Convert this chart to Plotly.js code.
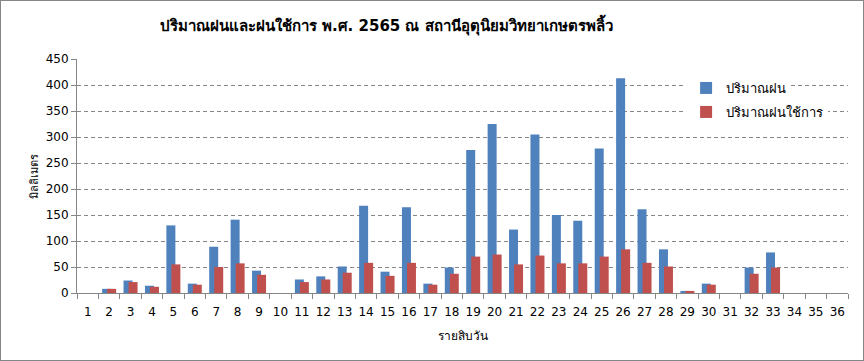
<!DOCTYPE html>
<html>
<head>
<meta charset="utf-8">
<script src="https://cdn.plot.ly/plotly-3.0.1.min.js"></script>
<style>
html,body{margin:0;padding:0;background:#fff;}
#wrap{position:relative;width:864px;height:361px;}
#chart{width:864px;height:361px;}
#frame{position:absolute;left:0;top:0;width:862px;height:359px;border:1px solid #868686;pointer-events:none;}
</style>
</head>
<body>
<div id="wrap"><div id="chart"></div><div id="frame"></div></div>
<script>
const categories = ['1','2','3','4','5','6','7','8','9','10','11','12','13','14','15','16','17','18','19','20','21','22','23','24','25','26','27','28','29','30','31','32','33','34','35','36'];
const rainfall = [null,8,24,14,130,18,89,141,43,null,26,32,51,168,41,165,18,49,275,325,122,305,150,139,278,413,161,84,4,18,null,49,78,null,null,null];
const effectiveRain = [null,8,21,12,55,16,50,57,35,null,21,26,39,58,33,58,16,37,70,74,55,72,57,57,70,84,58,51,4,16,null,37,49,null,null,null];
const seriesNames = ['ปริมาณฝน','ปริมาณฝนใช้การ'];
const titleText = 'ปริมาณฝนและฝนใช้การ พ.ศ. 2565 ณ สถานีอุตุนิยมวิทยาเกษตรพลิ้ว';
const xTitle = 'รายสิบวัน';
const yTitle = 'มิลลิเมตร';

const FONT = "Tahoma, 'DejaVu Sans', 'Noto Sans', sans-serif";
const traces = [
  {type:'bar', name:seriesNames[0], x:categories, y:rainfall, marker:{color:'#4F81BD'}, width:0.42, offset:-0.327, legend:'legend'},
  {type:'bar', name:seriesNames[1], x:categories, y:effectiveRain, marker:{color:'#C0504D'}, width:0.42, offset:-0.093, legend:'legend2'}
];
const legendBase = {xanchor:'left', yanchor:'middle', bgcolor:'#fff', borderwidth:0,
          font:{family:FONT, size:13, color:'#000'}};
const layout = {
  width:864, height:361,
  margin:{l:77, r:16, t:59, b:68, pad:0},
  paper_bgcolor:'#fff', plot_bgcolor:'#fff',
  barmode:'overlay',
  font:{family:FONT, size:12, color:'#000'},
  showlegend:true,
  title:{text:'<b>'+titleText+'</b>', x:0.447, xanchor:'center', xref:'container', y:0.93, yanchor:'middle', font:{family:FONT, size:15, color:'#000'}},
  xaxis:{type:'category', range:[-0.5,35.5], tickson:'boundaries', ticks:'outside', ticklen:5, tickcolor:'#868686', tickangle:0,
         ticklabelstandoff:8,
         showline:true, linecolor:'#868686', linewidth:1, showgrid:false, zeroline:false,
         tickfont:{family:FONT, size:12, color:'#000'},
         title:{text:xTitle, font:{family:FONT, size:12, color:'#000'}, standoff:13}},
  yaxis:{range:[0,450], dtick:50, tick0:0, ticks:'outside', ticklen:5, tickcolor:'#868686',
         showline:true, linecolor:'#868686', linewidth:1, showgrid:true, gridcolor:'#868686', griddash:'4px,3px', gridwidth:1,
         zeroline:false, tickfont:{family:FONT, size:12, color:'#000'},
         title:{text:yTitle, font:{family:FONT, size:11, color:'#000'}, standoff:4}},
  legend:Object.assign({x:0.79, y:(293-88)/234}, legendBase),
  legend2:Object.assign({x:0.79, y:(293-112)/234}, legendBase)
};
Plotly.newPlot('chart', traces, layout, {displayModeBar:false, staticPlot:true});
</script>
</body>
</html>
